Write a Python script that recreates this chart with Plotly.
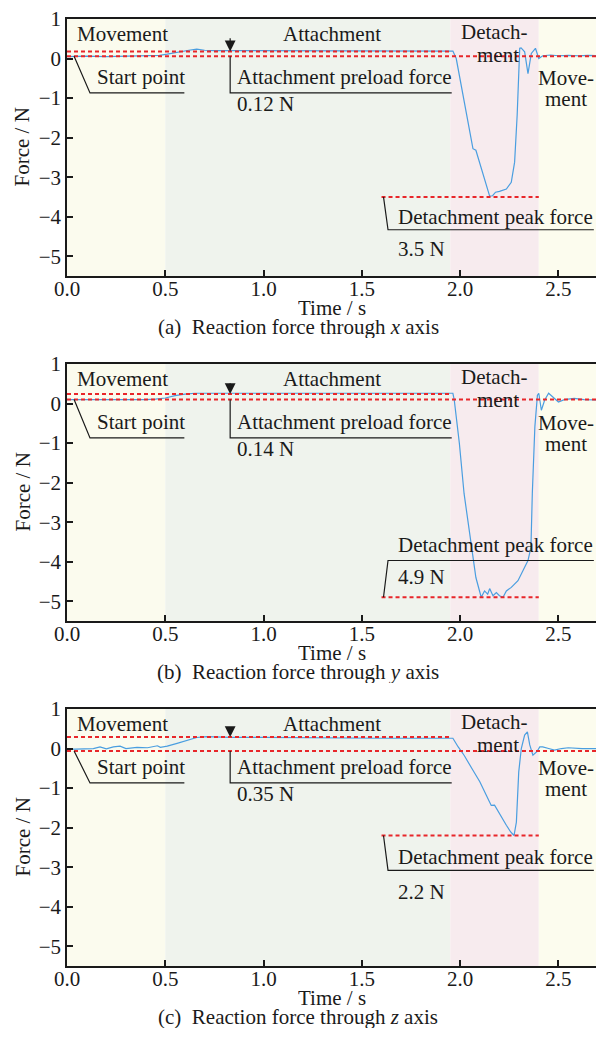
import plotly.graph_objects as go

# ---------------- data ----------------
panel_letters = ["a", "b", "c"]
axis_letters = ["x", "y", "z"]

# reaction force through x axis
time_x = [0.0, 0.1, 0.2, 0.3, 0.42, 0.47, 0.51, 0.55, 0.58, 0.62, 0.66, 0.70, 0.75, 0.83,
          1.0, 1.2, 1.4, 1.6, 1.8, 1.94, 1.963, 1.98, 2.0, 2.02, 2.045, 2.065, 2.08, 2.107,
          2.13, 2.15, 2.165, 2.18, 2.20, 2.235, 2.26, 2.277, 2.29, 2.303, 2.31, 2.328, 2.345,
          2.362, 2.383, 2.40, 2.42, 2.46, 2.5, 2.55, 2.6, 2.65, 2.7]
force_x = [0.05, 0.06, 0.05, 0.06, 0.06, 0.08, 0.11, 0.15, 0.18, 0.21, 0.24, 0.21, 0.20, 0.20,
           0.19, 0.19, 0.20, 0.19, 0.19, 0.19, 0.19, 0.0, -0.55, -1.10, -1.70, -2.28, -2.32, -2.79,
           -3.15, -3.48, -3.47, -3.38, -3.36, -3.30, -3.13, -2.62, -1.43, 0.26, 0.27, 0.17, -0.38,
           0.13, 0.26, 0.0, 0.07, 0.09, 0.07, 0.08, 0.07, 0.08, 0.07]

# reaction force through y axis
time_y = [0.0, 0.1, 0.2, 0.3, 0.4, 0.45, 0.5, 0.55, 0.6, 0.65, 0.75, 0.83, 1.0, 1.2, 1.4, 1.6,
          1.8, 1.94, 1.963, 1.97, 1.996, 2.02, 2.048, 2.065, 2.08, 2.107, 2.124, 2.14, 2.15,
          2.167, 2.184, 2.20, 2.218, 2.235, 2.26, 2.294, 2.32, 2.345, 2.36, 2.367, 2.38, 2.393,
          2.40, 2.413, 2.43, 2.45, 2.47, 2.5, 2.53, 2.58, 2.63, 2.7]
force_y = [0.10, 0.10, 0.09, 0.10, 0.10, 0.11, 0.14, 0.20, 0.24, 0.26, 0.26, 0.26, 0.26, 0.26,
           0.26, 0.26, 0.26, 0.26, 0.26, 0.09, -1.01, -2.28, -3.30, -3.97, -4.40, -4.90, -4.74,
           -4.82, -4.68, -4.86, -4.78, -4.86, -4.90, -4.74, -4.65, -4.48, -4.23, -3.97, -3.64,
           -2.28, -0.59, 0.21, 0.26, -0.17, 0.09, 0.26, 0.17, 0.04, 0.10, 0.13, 0.10, 0.09]

# reaction force through z axis
time_z = [0.0, 0.134, 0.168, 0.2, 0.236, 0.27, 0.30, 0.356, 0.41, 0.46, 0.475, 0.51, 0.56, 0.61,
          0.66, 0.71, 0.76, 0.83, 1.0, 1.2, 1.4, 1.6, 1.8, 1.94, 1.963, 1.99, 2.02, 2.065, 2.10,
          2.133, 2.158, 2.175, 2.2, 2.235, 2.257, 2.274, 2.286, 2.298, 2.311, 2.328, 2.342,
          2.354, 2.37, 2.39, 2.405, 2.42, 2.45, 2.48, 2.515, 2.55, 2.62, 2.7]
force_z = [-0.02, 0.0, 0.04, -0.01, 0.04, 0.06, 0.0, 0.03, 0.02, 0.07, 0.03, 0.06, 0.13, 0.20,
           0.28, 0.30, 0.29, 0.28, 0.28, 0.27, 0.27, 0.26, 0.26, 0.26, 0.26, 0.04, -0.17, -0.55,
           -0.84, -1.18, -1.44, -1.43, -1.65, -1.94, -2.11, -2.20, -1.86, -0.59, 0.0, 0.34, 0.42,
           0.09, -0.17, -0.08, 0.04, 0.04, 0.0, -0.04, 0.0, 0.02, 0.0, 0.0]

baseline_force = [0.06, 0.10, -0.06]   # N, level at the start point
preload_force = [0.12, 0.14, 0.35]     # N, attachment preload above the baseline
peak_force = [3.5, 4.9, 2.2]           # N, detachment peak

phase_bounds = [0.0, 0.5, 1.95, 2.4, 2.7]
phase_names = ["Movement", "Attachment", "Detachment", "Movement"]

x_ticks = [0.0, 0.5, 1.0, 1.5, 2.0, 2.5]
y_ticks = [1, 0, -1, -2, -3, -4, -5]

series_time = [time_x, time_y, time_z]
series_force = [force_x, force_y, force_z]

# ---------------- layout constants ----------------
W, H = 596, 1039
PLOT_LEFT = 67
PANEL_TOPS = [19, 364, 709]
PANEL_H = 257
X_RANGE = [0.0, 2.691]
Y_RANGE = [-5.5, 1.0]

FONT = "Liberation Serif"
FS = 21
INK = "#1a1a1a"
CURVE = "#4a9ee0"
RED = "#e8262a"
PHASE_FILL = ["#fbfbee", "#eff3ed", "#f7ebee", "#fcfcee"]

# callout geometry per panel (data units)
peak_text_y = [-4.0, -3.57, -2.75]
peak_rule_y = [-4.33, -3.97, -3.08]
peak_value_y = [-4.81, -4.38, -3.64]
rule_y = -0.87
label_y = -0.47
value_y = -1.14


def py(px):
    return 1 - px / H


fig = go.Figure()
annotations = []
shapes = []

for i in range(3):
    sfx = "" if i == 0 else str(i + 1)
    xa, ya = "x" + sfx, "y" + sfx
    top = PANEL_TOPS[i]
    bottom = top + PANEL_H

    fig.update_layout({
        "xaxis" + sfx: dict(
            domain=[PLOT_LEFT / W, 1.0], range=X_RANGE, anchor=ya, automargin=False,
            tickvals=x_ticks, tickformat=".1f", ticks="inside", ticklen=6,
            tickwidth=1.5, tickcolor=INK, showline=True, linewidth=1.5,
            linecolor=INK, mirror=True, showgrid=False, zeroline=False,
            ticklabelstandoff=-7,
            tickfont=dict(family=FONT, size=FS, color=INK),
        ),
        "yaxis" + sfx: dict(
            domain=[py(bottom), py(top)], range=Y_RANGE, anchor=xa, automargin=False,
            tickvals=y_ticks, ticks="inside", ticklen=6, tickwidth=1.5,
            tickcolor=INK, showline=True, linewidth=1.5, linecolor=INK,
            showgrid=False, zeroline=False,
            tickfont=dict(family=FONT, size=FS, color=INK),
        ),
    })

    # phase backgrounds
    for k in range(4):
        shapes.append(dict(
            type="rect", xref=xa, yref=ya + " domain",
            x0=phase_bounds[k], x1=phase_bounds[k + 1], y0=0, y1=1,
            fillcolor=PHASE_FILL[k], line=dict(width=0), layer="below",
        ))

    base = baseline_force[i]
    upper = base + preload_force[i]
    peak = -peak_force[i]

    # force curve
    fig.add_trace(go.Scatter(
        x=series_time[i], y=series_force[i], mode="lines", xaxis=xa, yaxis=ya,
        line=dict(color=CURVE, width=1.2), showlegend=False, hoverinfo="skip",
    ))

    # reference levels
    dotted = dict(color=RED, width=2, dash="4px,3px")
    for xs, lvl in (([phase_bounds[0], phase_bounds[4]], base),
                    ([phase_bounds[0], phase_bounds[2]], upper),
                    ([1.6, phase_bounds[3]], peak)):
        fig.add_trace(go.Scatter(
            x=xs, y=[lvl, lvl], mode="lines", xaxis=xa, yaxis=ya,
            line=dotted, showlegend=False, hoverinfo="skip",
        ))

    # black leader lines
    leader = dict(color=INK, width=1.2)
    shapes.append(dict(type="path", xref=xa, yref=ya, line=leader,
                       path=f"M 0.036 {base} L 0.117 {rule_y} L 0.597 {rule_y}"))
    shapes.append(dict(type="path", xref=xa, yref=ya, line=leader,
                       path=f"M 0.83 {base} L 0.83 {rule_y} L 1.957 {rule_y}"))
    shapes.append(dict(type="path", xref=xa, yref=ya, line=leader,
                       path=f"M 1.61 {peak} L 1.633 {peak_rule_y[i]} L 2.68 {peak_rule_y[i]}"))

    # preload arrow
    annotations.append(dict(
        x=0.83, y=upper, xref=xa, yref=ya, ax=0.83, ay=0.55, axref=xa, ayref=ya,
        text="", showarrow=True, arrowhead=2, arrowsize=1.8, arrowwidth=1.2,
        arrowcolor=INK, standoff=0,
    ))

    def label(text, x, y, xanchor="left"):
        annotations.append(dict(
            x=x, y=y, xref=xa, yref=ya, text=text, showarrow=False,
            xanchor=xanchor, yanchor="middle",
            font=dict(family=FONT, size=FS, color=INK),
        ))

    # phase names
    label(phase_names[0], 0.04, 0.62)
    label(phase_names[1], 1.35, 0.62, "center")
    label("Detach-", 2.17, 0.67, "center")
    label("ment", 2.19, 0.09, "center")
    label("Move-", 2.54, -0.50, "center")
    label("ment", 2.54, -1.03, "center")

    # callout texts
    label("Start point", 0.143, label_y)
    label("Attachment preload force", 0.855, label_y)
    label(f"{preload_force[i]:.2f} N", 0.855, value_y)
    label("Detachment peak force", 1.673, peak_text_y[i])
    label(f"{peak_force[i]:.1f} N", 1.673, peak_value_y[i])

    # axis titles and caption
    annotations.append(dict(
        x=22 / W, y=py(top + PANEL_H / 2), xref="paper", yref="paper",
        text="Force / N", textangle=-90, showarrow=False,
        xanchor="center", yanchor="middle",
        font=dict(family=FONT, size=FS, color=INK),
    ))
    annotations.append(dict(
        x=(PLOT_LEFT + W) / 2 / W, y=py(bottom + 32), xref="paper", yref="paper",
        text="Time / s", showarrow=False, xanchor="center", yanchor="middle",
        height=20, valign="middle",
        font=dict(family=FONT, size=FS, color=INK),
    ))
    annotations.append(dict(
        x=0.5, y=py(bottom + 51), xref="paper", yref="paper",
        text=f"({panel_letters[i]})\u00a0\u00a0Reaction force through <i>{axis_letters[i]}</i> axis",
        showarrow=False, xanchor="center", yanchor="middle",
        height=22, valign="middle",
        font=dict(family=FONT, size=FS, color=INK),
    ))

fig.update_layout(
    width=W, height=H, margin=dict(l=0, r=0, t=0, b=0),
    paper_bgcolor="white", plot_bgcolor="white",
    shapes=shapes, annotations=annotations, showlegend=False,
    font=dict(family=FONT, size=FS, color=INK),
)

fig.write_html("out.html")
